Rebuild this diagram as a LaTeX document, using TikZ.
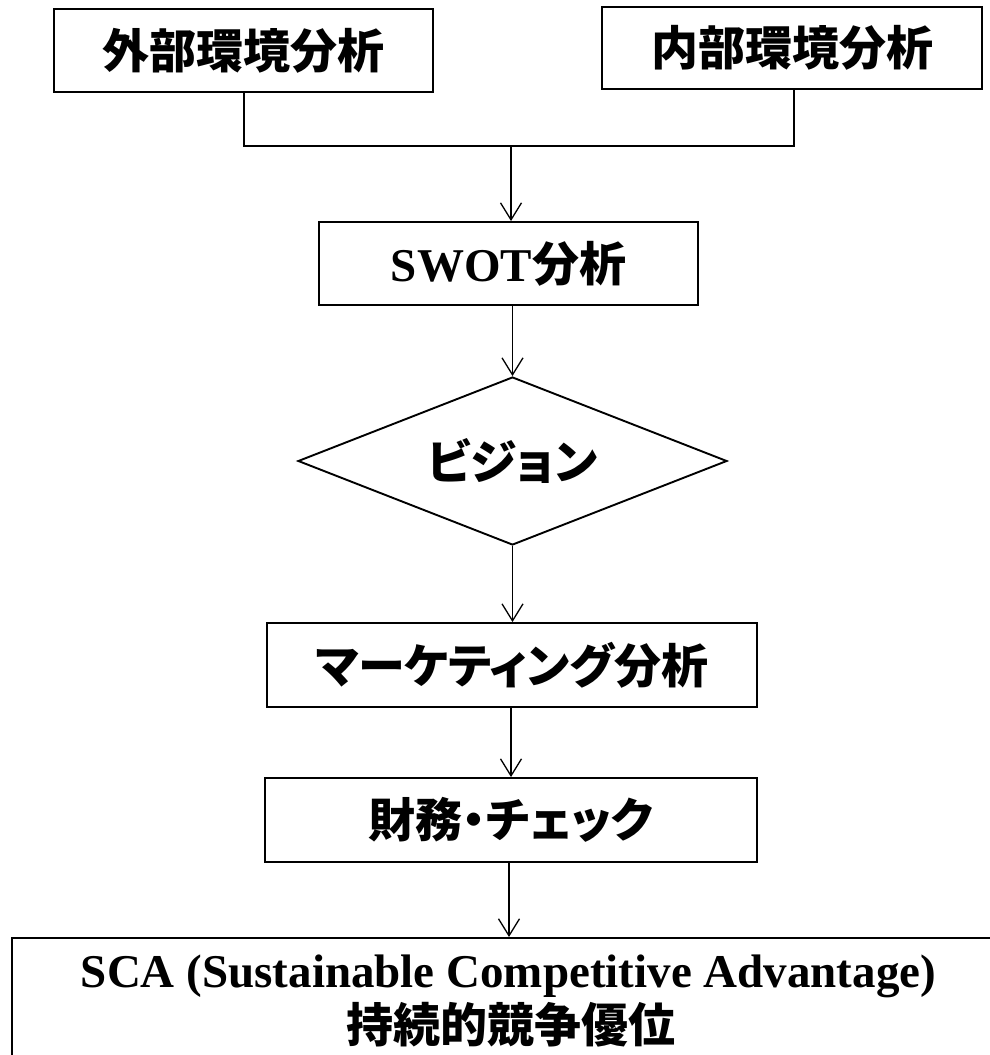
\documentclass[tikz,border=0pt]{standalone}
\usepackage{fontspec}
\setmainfont{Liberation Serif}
\newfontfamily\jp{Noto Sans CJK JP}
\newfontfamily\jpp{Noto Sans CJK JP}[RawFeature=+palt]
\usetikzlibrary{arrows.meta,shapes.geometric}
\tikzset{
  box/.style={draw, line width=1.9pt, rectangle, inner sep=0pt, font=\fontsize{47}{56}\selectfont\bfseries},
  conn/.style={line width=1.3pt},
  arr/.style={conn, -{Straight Barb[length=17pt,width=21pt,line width=1.3pt]}},
}
\begin{document}
\begin{tikzpicture}[x=1pt,y=-1pt]
\useasboundingbox (0,0) rectangle (990,1055);
\clip (0,0) rectangle (990,1055);
\node[box, minimum width=379pt, minimum height=83pt] (ext) at (243.5,50.5) {\jp 外部環境分析};
\node[box, minimum width=380pt, minimum height=82pt] (int) at (792,48) {\jp 内部環境分析};
\node[box, minimum width=379pt, minimum height=83pt] (swot) at (508.5,263.5) {SWOT\jp 分析};
\node[box, shape=diamond, aspect=2.55, minimum width=429pt, minimum height=168pt] (vis) at (512.5,461) {\jpp ビジョン};
\node[box, minimum width=490pt, minimum height=84pt] (mkt) at (512,665) {\jpp マーケティング分析};
\node[box, minimum width=492pt, minimum height=84pt] (fin) at (511,820) {\jpp 財務・チェック};
\node[draw, line width=1.9pt, rectangle, anchor=north west, minimum width=1000pt, minimum height=150pt] (sca) at (11,937) {};
\node[anchor=base, inner sep=0pt, font=\fontsize{47}{56}\selectfont\bfseries] (sca1) at (508.5,987) {SCA (Sustainable Competitive Advantage)};
\node[anchor=base, inner sep=0pt, font=\fontsize{47}{56}\selectfont\bfseries] (sca2) at (511,1042) {\jp 持続的競争優位};
\coordinate (j) at (511,146);
\draw[conn] (ext.south -| 244,0) -- (244,146) -- (794,146) -- (int.south -| 794,0);
\draw[arr] (j) -- (j |- swot.north);
\draw[arr] (swot.south -| vis.north) -- (vis.north);
\draw[arr] (vis.south) -- (vis.south |- mkt.north);
\draw[arr] (mkt.south -| 511,0) -- (fin.north -| 511,0);
\draw[arr] (fin.south -| 509,0) -- (sca.north -| 509,0);
\end{tikzpicture}
\end{document}
